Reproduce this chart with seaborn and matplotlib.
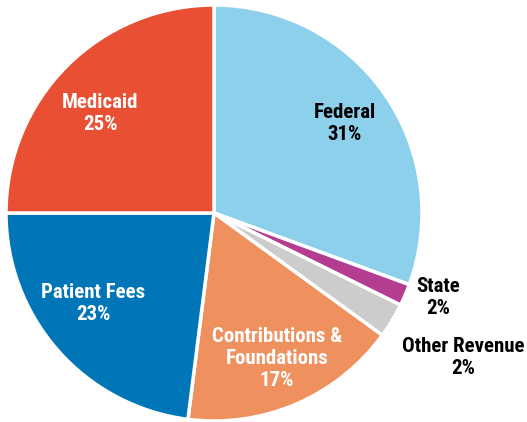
import matplotlib
matplotlib.use("Agg")
import matplotlib.pyplot as plt
import seaborn as sns

# Revenue shares (percent), clockwise from 12 o'clock
categories = ["Federal", "State", "Other Revenue", "Contributions &\nFoundations",
              "Patient Fees", "Medicaid"]
shares = [30.6, 1.7, 2.7, 17.0, 23.0, 25.0]
pct_labels = ["31%", "2%", "2%", "17%", "23%", "25%"]

colors = ["#8dd0ec", "#b43d92", "#cccccc", "#ef915e", "#0075b8", "#e84f33"]
text_colors = ["black", "black", "black", "white", "white", "white"]
# label anchor in pixel coords (x from left, y from top)
label_pos = [(345, 123), (438, 298), (463, 357), (277, 358), (93, 303), (100, 114)]

sns.set_theme(style="white")
plt.rcParams["font.family"] = ["Roboto Condensed", "DejaVu Sans"]

W, H = 527, 422
fig = plt.figure(figsize=(W / 100, H / 100), dpi=100)
ax = fig.add_axes([0, 0, 1, 1])

ax.pie(shares, colors=colors, startangle=90, counterclock=False,
       center=(214, H - 213), radius=208,
       wedgeprops=dict(edgecolor="white", linewidth=2.5))

ax.set_xlim(0, W)
ax.set_ylim(0, H)
ax.set_aspect("equal")
ax.axis("off")

for cat, pct, tc, (x, y) in zip(categories, pct_labels, text_colors, label_pos):
    ax.text(x, H - y, f"{cat}\n{pct}", ha="center", va="center", color=tc,
            fontsize=15, fontweight="bold", fontstretch="condensed",
            linespacing=1.2)

fig.savefig("out.png", dpi=100)
